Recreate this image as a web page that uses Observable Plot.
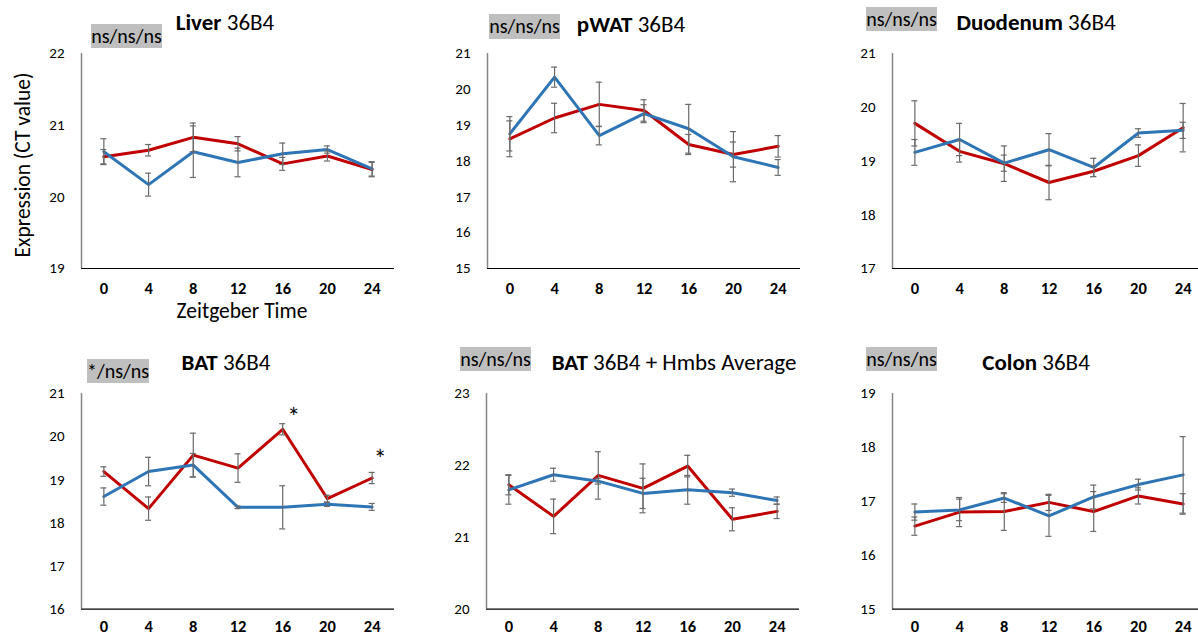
<!DOCTYPE html>
<html>
<head>
<meta charset="utf-8">
<script src="https://cdn.jsdelivr.net/npm/d3@7"></script>
<script src="https://cdn.jsdelivr.net/npm/@observablehq/plot@0.6"></script>
<style>
  html, body { margin: 0; padding: 0; background: #fff; overflow: hidden; }
  #chart { position: relative; width: 1198px; height: 636px; overflow: hidden;
           font-family: Carlito, Lato, "Open Sans", sans-serif; color: #000; }
  #chart svg { position: absolute; overflow: visible; }
  .title { position: absolute; font-size: 23px; white-space: nowrap; transform: translate(-50%, -50%); }
  .title b { font-weight: 700; }
  .sig { position: absolute; background: #bfbfbf; font-size: 20px; text-align: center; white-space: nowrap; }
  .axlabel { position: absolute; font-size: 21.5px; white-space: nowrap; transform: translate(-50%, -50%); }
</style>
</head>
<body>
<div id="chart"></div>
<script>
// Zeitgeber time points (hours)
const zt = [0, 4, 8, 12, 16, 20, 24];

// Liver 36B4 (CT values, mean ± SEM)
const liverRed = [20.56, 20.65, 20.83, 20.74, 20.46, 20.57, 20.38];
const liverRedErr = [0.10, 0.08, 0.20, 0.10, 0.09, 0.07, 0.10];
const liverBlue = [20.63, 20.17, 20.63, 20.48, 20.60, 20.66, 20.39];
const liverBlueErr = [0.18, 0.16, 0.36, 0.20, 0.15, 0.05, 0.10];

// pWAT 36B4
const pwatRed = [18.62, 19.20, 19.58, 19.41, 18.46, 18.18, 18.41];
const pwatRedErr = [0.50, 0.41, 0.62, 0.30, 0.28, 0.35, 0.30];
const pwatBlue = [18.76, 20.34, 18.71, 19.32, 18.90, 18.12, 17.82];
const pwatBlueErr = [0.48, 0.28, 0.26, 0.25, 0.68, 0.70, 0.22];

// Duodenum 36B4
const duoRed = [19.70, 19.18, 18.95, 18.60, 18.81, 19.10, 19.62];
const duoRedErr = [0.42, 0.20, 0.33, 0.32, 0.10, 0.20, 0.45];
const duoBlue = [19.16, 19.40, 18.96, 19.21, 18.88, 19.52, 19.57];
const duoBlueErr = [0.24, 0.30, 0.15, 0.30, 0.17, 0.08, 0.15];

// BAT 36B4
const batRed = [19.19, 18.33, 19.57, 19.27, 20.17, 18.56, 19.04];
const batRedErr = [0.11, 0.27, 0.51, 0.33, 0.13, 0.08, 0.13];
const batBlue = [18.61, 19.19, 19.34, 18.36, 18.36, 18.43, 18.37];
const batBlueErr = [0.20, 0.33, 0.27, 0.03, 0.50, 0.05, 0.08];
const batStars = [16, 24]; // time points marked significant

// BAT 36B4 + Hmbs average
const batAvgRed = [21.73, 21.29, 21.86, 21.68, 21.99, 21.25, 21.36];
const batAvgRedErr = [0.14, 0.24, 0.33, 0.34, 0.15, 0.16, 0.10];
const batAvgBlue = [21.66, 21.87, 21.78, 21.61, 21.66, 21.62, 21.51];
const batAvgBlueErr = [0.20, 0.09, 0.04, 0.21, 0.20, 0.05, 0.05];

// Colon 36B4
const colonRed = [16.54, 16.80, 16.81, 16.98, 16.81, 17.10, 16.95];
const colonRedErr = [0.17, 0.27, 0.35, 0.15, 0.37, 0.15, 0.19];
const colonBlue = [16.80, 16.84, 17.06, 16.73, 17.08, 17.31, 17.49];
const colonBlueErr = [0.15, 0.20, 0.08, 0.38, 0.22, 0.10, 0.71];

const RED = "#C00000", BLUE = "#2E75B6", ERR = "#6a6a6a";
const FONT = "Carlito, Lato, 'Open Sans', sans-serif";
const chart = document.getElementById("chart");

function series(vals, errs, key) {
  return zt.map((t, i) => ({ t, v: vals[i], lo: vals[i] - errs[i], hi: vals[i] + errs[i], key }));
}

function errorMarks(data) {
  const cap = 0.27; // half cap width, in hours
  return [
    Plot.ruleX(data, { x: "t", y1: "lo", y2: "hi", stroke: ERR, strokeWidth: 1.2 }),
    Plot.ruleY(data, { y: "lo", x1: d => d.t - cap, x2: d => d.t + cap, stroke: ERR, strokeWidth: 1.2 }),
    Plot.ruleY(data, { y: "hi", x1: d => d.t - cap, x2: d => d.t + cap, stroke: ERR, strokeWidth: 1.2 })
  ];
}

function panel({ red, redErr, blue, blueErr, yDomain, axisX, frameTop, frameH, xPad = 14, extra = [] }) {
  const mL = 70, mR = 10, mT = 30, mB = 36, w = 313;
  const r = series(red, redErr, "red");
  const b = series(blue, blueErr, "blue");
  const yTicks = d3.range(yDomain[0], yDomain[1] + 0.001, 1);
  const svg = Plot.plot({
    width: mL + w + mR,
    height: mT + frameH + mB,
    marginLeft: mL, marginRight: mR, marginTop: mT, marginBottom: mB,
    style: { fontFamily: FONT, background: "transparent", color: "#000" },
    x: { domain: [-2, 26] },
    y: { domain: yDomain },
    marks: [
      Plot.axisX({ ticks: zt, tickSize: 0, tickPadding: xPad, fontSize: 16.5, fontWeight: "bold", label: null }),
      Plot.axisY({ ticks: yTicks, tickSize: 0, tickPadding: 17, fontSize: 15, label: null, tickFormat: d3.format("d") }),
      Plot.ruleX([-2], { y1: yDomain[0], y2: yDomain[1], stroke: "#868686", strokeWidth: 1.5 }),
      Plot.ruleY([yDomain[0]], { stroke: "#000", strokeWidth: 1.2 }),
      Plot.line(r, { x: "t", y: "v", stroke: RED, strokeWidth: 3 }),
      Plot.line(b, { x: "t", y: "v", stroke: BLUE, strokeWidth: 3 }),
      ...errorMarks(r),
      ...errorMarks(b),
      ...extra.map(f => f(r, b))
    ]
  });
  svg.style.left = (axisX - mL) + "px";
  svg.style.top = (frameTop - mT) + "px";
  chart.appendChild(svg);
}

function title(bold, rest, cx, cy) {
  const d = document.createElement("div");
  d.className = "title";
  d.innerHTML = `<b>${bold}</b> ${rest}`;
  d.style.left = cx + "px"; d.style.top = cy + "px";
  chart.appendChild(d);
}

function sig(text, x, y, w, h) {
  const d = document.createElement("div");
  d.className = "sig";
  d.textContent = text;
  Object.assign(d.style, { left: x + "px", top: y + "px", width: w + "px", height: h + "px", lineHeight: h + "px" });
  chart.appendChild(d);
}

const ROW1 = 53, ROW2 = 392.7, H1 = 215, H2 = 215.6, PAD2 = 11;

panel({ red: liverRed, redErr: liverRedErr, blue: liverBlue, blueErr: liverBlueErr, yDomain: [19, 22], axisX: 81, frameTop: ROW1, frameH: H1 });
panel({ red: pwatRed, redErr: pwatRedErr, blue: pwatBlue, blueErr: pwatBlueErr, yDomain: [15, 21], axisX: 487, frameTop: ROW1, frameH: H1 });
panel({ red: duoRed, redErr: duoRedErr, blue: duoBlue, blueErr: duoBlueErr, yDomain: [17, 21], axisX: 892, frameTop: ROW1, frameH: H1 });
panel({
  red: batRed, redErr: batRedErr, blue: batBlue, blueErr: batBlueErr, yDomain: [16, 21], axisX: 81, frameTop: ROW2, frameH: H2, xPad: PAD2,
  extra: [
    (r) => Plot.text(r.filter(d => d.t === batStars[0]), { x: "t", y: "hi", text: () => "*", dx: 11, dy: -6, fontSize: 26 }),
    (r) => Plot.text(r.filter(d => d.t === batStars[1]), { x: "t", y: "hi", text: () => "*", dx: 8, dy: -13, fontSize: 26 })
  ]
});
panel({ red: batAvgRed, redErr: batAvgRedErr, blue: batAvgBlue, blueErr: batAvgBlueErr, yDomain: [20, 23], axisX: 486, frameTop: ROW2, frameH: H2, xPad: PAD2 });
panel({ red: colonRed, redErr: colonRedErr, blue: colonBlue, blueErr: colonBlueErr, yDomain: [15, 19], axisX: 892, frameTop: ROW2, frameH: H2, xPad: PAD2 });

title("Liver", "36B4", 225, 22);
title("pWAT", "36B4", 631, 24);
title("Duodenum", "36B4", 1036, 22);
title("BAT", "36B4", 226, 362);
title("BAT", "36B4 + Hmbs Average", 674, 362);
title("Colon", "36B4", 1036, 362);

sig("ns/ns/ns", 91, 24, 71, 24);
sig("ns/ns/ns", 489, 14, 71, 25);
sig("ns/ns/ns", 866, 7, 71, 24);
sig("*/ns/ns", 87, 359, 62, 24);
sig("ns/ns/ns", 460, 347, 71, 24);
sig("ns/ns/ns", 866, 347, 71, 24);

const yl = document.createElement("div");
yl.className = "axlabel";
yl.textContent = "Expression (CT value)";
Object.assign(yl.style, { left: "23px", top: "165px", transform: "translate(-50%, -50%) rotate(-90deg)" });
chart.appendChild(yl);

const xl = document.createElement("div");
xl.className = "axlabel";
xl.textContent = "Zeitgeber Time";
Object.assign(xl.style, { left: "242px", top: "311px" });
chart.appendChild(xl);
</script>
</body>
</html>
